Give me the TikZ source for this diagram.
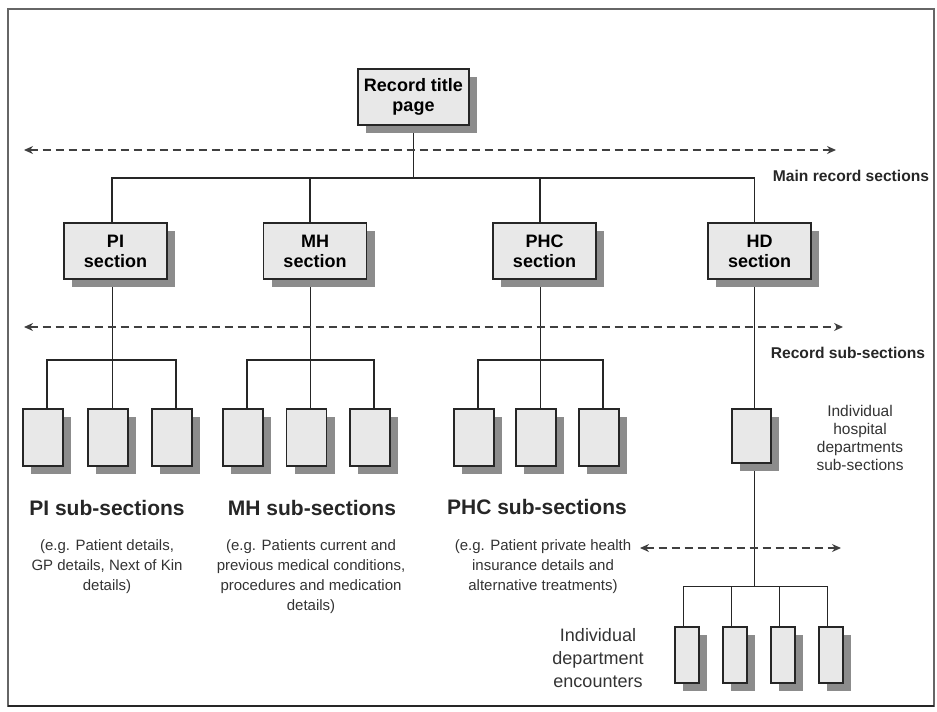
\documentclass[tikz,border=0pt]{standalone}
\usepackage{fontspec}
\setmainfont{Liberation Sans}
\usetikzlibrary{arrows.meta,shadows,backgrounds}
\begin{document}
\begin{tikzpicture}[x=1pt,y=-1pt,
  box/.style={draw=black!85, line width=1.1pt, fill=black!9, inner sep=0pt,
    drop shadow={shadow xshift=8pt, shadow yshift=-8pt, fill=black!45, opacity=1}},
  secbox/.style={box, minimum width=103pt, minimum height=56pt, align=center,
    font=\bfseries\fontsize{18}{20}\selectfont},
  subbox/.style={box, minimum width=40pt, minimum height=57pt},
  encbox/.style={box, minimum width=24pt, minimum height=56pt},
  bus/.style={line width=1.6pt, draw=black!85},
  link/.style={line width=0.8pt, draw=black!85},
  guide/.style={line width=1.4pt, draw=black!75, dash pattern=on 8pt off 5pt,
    {Stealth[length=9pt,width=8pt]}-{Stealth[length=9pt,width=8pt]}},
  tag/.style={font=\bfseries\fontsize{15.6}{17}\selectfont, text=black!85},
  heading/.style={font=\bfseries\fontsize{21}{23}\selectfont, text=black!85},
  note/.style={font=\fontsize{15}{20}\selectfont, text=black!80, align=center, anchor=north},
  side/.style={font=\fontsize{15.5}{18}\selectfont, text=black!80, align=center}]

\useasboundingbox (0,0) rectangle (937,712);

% frame
\draw[black!60, line width=1.4pt] (8,9) rectangle (934,706);
\draw[black!85, line width=2.4pt] (8,706) -- (934,706);

% top level
\node[secbox, minimum width=111pt] (title) at (413.5,97) {Record title\\page};

% main record sections
\node[secbox] (pi)  at (115.5,251) {PI\\section};
\node[secbox] (mh)  at (315,251)   {MH\\section};
\node[secbox] (phc) at (544.5,251) {PHC\\section};
\node[secbox] (hd)  at (759.5,251) {HD\\section};

% record sub-sections
\node[subbox] (pi1) at (43,437.5)  {};
\node[subbox] (pi2) at (108,437.5) {};
\node[subbox] (pi3) at (172,437.5) {};
\node[subbox] (mh1) at (243,437.5) {};
\node[subbox] (mh2) at (306.5,437.5) {};
\node[subbox] (mh3) at (370,437.5) {};
\node[subbox] (phc1) at (474,437.5) {};
\node[subbox] (phc2) at (536,437.5) {};
\node[subbox] (phc3) at (599,437.5) {};
\node[subbox, minimum width=39pt, minimum height=54pt] (hd1) at (751.5,436) {};

% department encounters
\node[encbox] (e1) at (687,655) {};
\node[encbox] (e2) at (735,655) {};
\node[encbox] (e3) at (783,655) {};
\node[encbox] (e4) at (831,655) {};

% bus heights and guide ends
\coordinate (bus1) at (0,178);
\coordinate (bus2) at (0,360);
\coordinate (bus3) at (0,586);
\coordinate (g1l) at (24,150);
\coordinate (g1r) at (836,150);
\coordinate (g2l) at (24,327);
\coordinate (g2r) at (843,327);
\coordinate (g3l) at (640,548);
\coordinate (g3r) at (841,548);

\begin{pgfonlayer}{background}
  % title to sections
  \draw[bus] (title.south) -- (title.south |- bus1) -| ([xshift=-3.5pt]pi.north);
  \draw[bus] (title.south |- bus1) -| ([xshift=-5pt]mh.north);
  \draw[bus] (title.south |- bus1) -| ([xshift=-4.5pt]phc.north);
  \draw[bus] (title.south |- bus1) -| ([xshift=-5pt]hd.north);

  % sections to sub-sections
  \draw[link] ([xshift=-3.5pt]pi.south) -- ([xshift=-3.5pt]pi.south |- bus2);
  \draw[bus] ([xshift=4pt]pi1.north) |- ([xshift=4pt]pi3.north |- bus2) -- ([xshift=4pt]pi3.north);
  \draw[link] ([xshift=-3.5pt]pi.south |- bus2) -| ([xshift=4pt]pi2.north);

  \draw[link] ([xshift=-5pt]mh.south) -- ([xshift=-5pt]mh.south |- bus2);
  \draw[bus] ([xshift=4pt]mh1.north) |- ([xshift=4pt]mh3.north |- bus2) -- ([xshift=4pt]mh3.north);
  \draw[link] ([xshift=-5pt]mh.south |- bus2) -| ([xshift=4pt]mh2.north);

  \draw[link] ([xshift=-4.5pt]phc.south) -- ([xshift=-4.5pt]phc.south |- bus2);
  \draw[bus] ([xshift=4pt]phc1.north) |- ([xshift=4pt]phc3.north |- bus2) -- ([xshift=4pt]phc3.north);
  \draw[link] ([xshift=-4.5pt]phc.south |- bus2) -| ([xshift=4pt]phc2.north);

  % HD section down to the encounters
  \draw[link] ([xshift=-5pt]hd.south) -- ([xshift=-5pt]hd.south |- bus3);
  \draw[link] ([xshift=-4pt]e1.north) |- ([xshift=-4pt]e4.north |- bus3) -- ([xshift=-4pt]e4.north);
  \draw[link] ([xshift=-4pt]e2.north) -- ([xshift=-4pt]e2.north |- bus3);
  \draw[link] ([xshift=-4pt]e3.north) -- ([xshift=-4pt]e3.north |- bus3);
\end{pgfonlayer}

% level guides
\draw[guide] (g1l) -- (g1r);
\draw[guide] (g2l) -- (g2r);
\draw[guide] (g3l) -- (g3r);

% labels
\node[tag] (lmain) at (851,176) {Main record sections};
\node[tag] (lsub) at (848,353) {Record sub-sections};
\node[side] (lhd) at (860,438) {Individual\\hospital\\departments\\sub-sections};
\node[side, font=\fontsize{18}{23}\selectfont] (lenc) at (598,658) {Individual\\department\\encounters};

\node[heading] (hpi) at (107,508) {PI sub-sections};
\node[heading] (hmh) at (312,508) {MH sub-sections};
\node[heading] (hphc) at (537,507) {PHC sub-sections};

\node[note] (npi) at (107,536) {(e.g. Patient details,\\GP details, Next of Kin\\details)};
\node[note] (nmh) at (311,536) {(e.g. Patients current and\\previous medical conditions,\\procedures and medication\\details)};
\node[note] (nphc) at (543,536) {(e.g. Patient private health\\insurance details and\\alternative treatments)};

\end{tikzpicture}
\end{document}
